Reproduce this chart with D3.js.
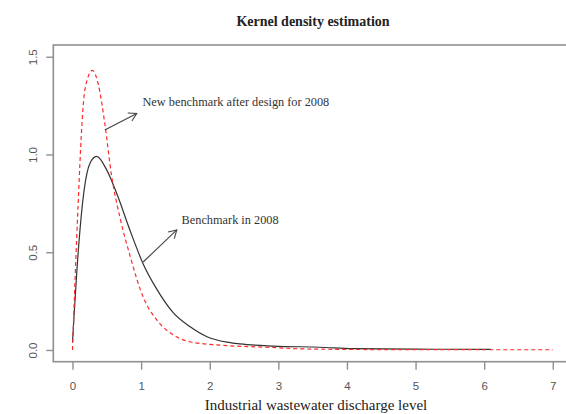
<!DOCTYPE html>
<html>
<head>
<meta charset="utf-8">
<script src="https://cdn.jsdelivr.net/npm/d3@7"></script>
<style>
  body { margin: 0; background: #fff; }
  svg { display: block; }
</style>
</head>
<body>
<div class="chart"></div>
<script>
const WIDTH = 566;
const HEIGHT = 414;
const LEFT = 53.3;
const RIGHT = 572;
const TOP = 45;
const BOTTOM = 361.7;

// values: [x, density]
var benchmark = [
  [0.00, 0.04], [0.085, 0.51], [0.17, 0.82], [0.255, 0.955], [0.35, 0.99],
  [0.50, 0.92], [0.645, 0.80], [0.84, 0.61], [1.03, 0.44], [1.23, 0.31],
  [1.47, 0.19], [1.71, 0.12], [1.96, 0.068], [2.25, 0.040], [2.44, 0.031],
  [2.93, 0.020], [3.61, 0.014], [4.09, 0.007], [5.0, 0.004], [6.1, 0.003]
];
var newBenchmark = [
  [0.00, 0.00], [0.035, 0.34], [0.085, 0.77], [0.13, 1.11], [0.18, 1.33],
  [0.29, 1.43], [0.375, 1.36], [0.47, 1.16], [0.57, 0.89], [0.69, 0.68],
  [0.84, 0.48], [1.03, 0.27], [1.23, 0.153], [1.47, 0.077], [1.71, 0.042],
  [2.10, 0.026], [2.83, 0.014], [3.41, 0.005], [4.5, 0.002], [7.0, 0.001]
];
var xTicks = [0, 1, 2, 3, 4, 5, 6, 7];
var yTicks = [0, 0.5, 1.0, 1.5];

// annotations: text anchor and arrow [from, to] in data units
var labels = [
  { text: 'New benchmark after design for 2008', at: [1.02, 1.27], from: [0.47, 1.125], to: [0.936, 1.21] },
  { text: 'Benchmark in 2008', at: [1.59, 0.665], from: [1.03, 0.45], to: [1.52, 0.614] }
];

var svg = d3.select('.chart').append('svg')
  .attr('width', WIDTH)
  .attr('height', HEIGHT);

var x = d3.scaleLinear().domain([-0.28, 7.28]).range([LEFT, RIGHT]);
var y = d3.scaleLinear().domain([-0.06, 1.56]).range([BOTTOM, TOP]);

// title
svg.append('text')
  .attr('x', 313)
  .attr('y', 26)
  .attr('text-anchor', 'middle')
  .style('font-family', '"Liberation Serif", "Times New Roman", serif')
  .style('font-weight', 'bold')
  .style('font-size', '14px')
  .style('fill', '#222')
  .text('Kernel density estimation');

// plot box
svg.append('rect')
  .attr('x', LEFT)
  .attr('y', TOP)
  .attr('width', RIGHT - LEFT)
  .attr('height', BOTTOM - TOP)
  .attr('fill', 'none')
  .attr('stroke', '#8f8f8f')
  .attr('stroke-width', 1.6);

var xAxis = svg.append('g')
  .attr('transform', 'translate(0,' + BOTTOM + ')')
  .call(d3.axisBottom(x).tickValues(xTicks).tickSize(8).tickPadding(12).tickFormat(d3.format('d')));

var yAxis = svg.append('g')
  .attr('transform', 'translate(' + LEFT + ',0)')
  .call(d3.axisLeft(y).tickValues(yTicks).tickSize(7).tickFormat(d3.format('.1f')));

[xAxis, yAxis].forEach(function (g) {
  g.select('.domain').remove();
  g.selectAll('.tick line').attr('stroke', '#8f8f8f').attr('stroke-width', 1.4);
  g.selectAll('.tick text')
    .style('font-family', '"Liberation Sans", Arial, sans-serif')
    .style('font-size', '11.5px')
    .attr('fill', '#555');
});

yAxis.selectAll('.tick text')
  .attr('x', 0)
  .attr('dy', 0)
  .attr('text-anchor', 'middle')
  .attr('dominant-baseline', 'central')
  .attr('transform', 'translate(-20,0) rotate(-90)');

// x label
svg.append('text')
  .attr('x', 316)
  .attr('y', 410)
  .attr('text-anchor', 'middle')
  .style('font-family', '"Liberation Serif", "Times New Roman", serif')
  .style('font-size', '15px')
  .style('fill', '#222')
  .text('Industrial wastewater discharge level');

var line = d3.line()
  .x(function (d) { return x(d[0]); })
  .y(function (d) { return y(d[1]); })
  .curve(d3.curveMonotoneX);

svg.append('path')
  .datum(benchmark)
  .attr('d', line)
  .attr('fill', 'none')
  .attr('stroke', '#333')
  .attr('stroke-width', 1.2);

svg.append('path')
  .datum(newBenchmark)
  .attr('d', line)
  .attr('fill', 'none')
  .attr('stroke', '#ff2a2a')
  .attr('stroke-width', 1.2)
  .attr('stroke-dasharray', '4,3');

// arrows with open heads, like R's arrows()
var arrow = function (from, to) {
  var x1 = x(from[0]), y1 = y(from[1]);
  var x2 = x(to[0]), y2 = y(to[1]);
  var a = Math.atan2(y2 - y1, x2 - x1);
  var len = 9, spread = Math.PI / 6;
  var head = [
    [x2 - len * Math.cos(a - spread), y2 - len * Math.sin(a - spread)],
    [x2, y2],
    [x2 - len * Math.cos(a + spread), y2 - len * Math.sin(a + spread)]
  ];
  var g = svg.append('g')
    .attr('fill', 'none')
    .attr('stroke', '#444')
    .attr('stroke-width', 1.1);
  g.append('line')
    .attr('x1', x1).attr('y1', y1)
    .attr('x2', x2).attr('y2', y2);
  g.append('path').attr('d', d3.line()(head));
};

labels.forEach(function (l) {
  arrow(l.from, l.to);
  svg.append('text')
    .attr('x', x(l.at[0]))
    .attr('y', y(l.at[1]))
    .attr('dominant-baseline', 'central')
    .style('font-family', '"Liberation Serif", "Times New Roman", serif')
    .style('font-size', '12.3px')
    .style('fill', '#333')
    .text(l.text);
});
</script>
</body>
</html>
